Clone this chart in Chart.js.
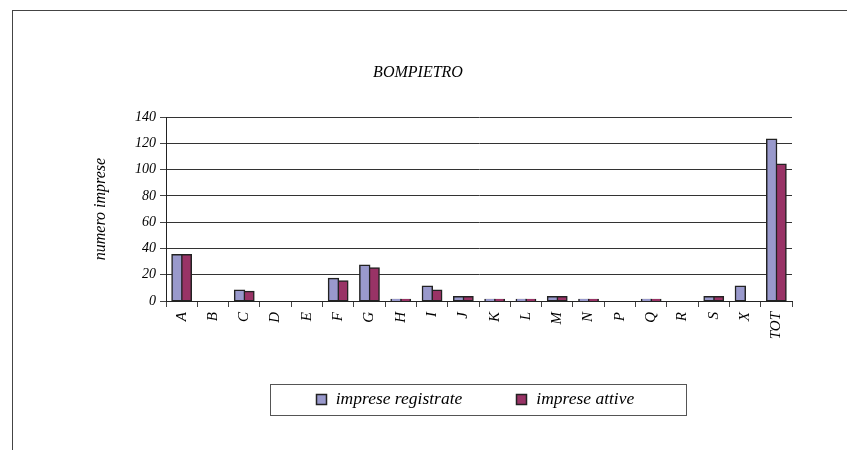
<!DOCTYPE html>
<html>
<head>
<meta charset="utf-8">
<script src="https://cdn.jsdelivr.net/npm/chart.js@4/dist/chart.umd.min.js"></script>
<style>
  html, body { margin: 0; padding: 0; background: #fff; }
  #wrap { position: relative; width: 847px; height: 450px; }
  #frame { position: absolute; left: 12px; top: 10px; width: 900px; height: 500px;
           border-left: 1px solid #444; border-top: 1px solid #444; pointer-events: none; }
</style>
</head>
<body>
<div id="wrap">
  <canvas id="barChart" width="847" height="450"></canvas>
  <div id="frame"></div>
</div>
<script>
var categorie = ['A','B','C','D','E','F','G','H','I','J','K','L','M','N','P','Q','R','S','X','TOT'];
var registrate = [35, 0, 8, 0, 0, 17, 27, 1, 11, 3, 1, 1, 3, 1, 0, 1, 0, 3, 11, 123];
var attive     = [35, 0, 7, 0, 0, 15, 25, 1, 8, 3, 1, 1, 3, 1, 0, 1, 0, 3, 0, 104];
var yTicks = [0, 20, 40, 60, 80, 100, 120, 140];

var serif = "'Liberation Serif', 'Times New Roman', serif";

// legenda disegnata a mano, con il riquadro intorno
var legendaBox = {
    id: 'legendaBox',
    afterDraw: function(chart) {
        var ctx = chart.ctx;
        var area = chart.chartArea;
        var ds = chart.data.datasets;
        ctx.save();
        ctx.font = 'italic 17.5px ' + serif;
        var box = 10, gapTesto = 10, gapVoci = 54;
        var larghezze = ds.map(function(d) { return box + gapTesto + ctx.measureText(d.label).width; });
        var totale = larghezze.reduce(function(a, b) { return a + b; }, 0) + gapVoci * (ds.length - 1);
        var cx = (area.left + area.right) / 2 - 4;
        var yc = area.bottom + 98;
        var x = cx - totale / 2;

        // riquadro
        var x1 = Math.round(x - 46) + 0.5;
        var x2 = Math.round(x + totale + 52) + 0.5;
        var y1 = Math.round(yc - 15.5) + 0.5;
        var y2 = Math.round(yc + 15.5) + 0.5;
        ctx.strokeStyle = '#555';
        ctx.lineWidth = 1;
        ctx.strokeRect(x1, y1, x2 - x1, y2 - y1);

        ctx.textBaseline = 'middle';
        ctx.textAlign = 'left';
        ds.forEach(function(d, i) {
            var bx = Math.round(x) + 0.5, by = Math.round(yc - box / 2) + 0.5;
            ctx.fillStyle = d.backgroundColor;
            ctx.fillRect(bx, by, box, box);
            ctx.strokeStyle = '#222';
            ctx.lineWidth = 1.5;
            ctx.strokeRect(bx, by, box, box);
            ctx.fillStyle = '#000';
            ctx.fillText(d.label, x + box + gapTesto, yc);
            x += larghezze[i] + gapVoci;
        });
        ctx.restore();
    }
};

function gonfia(c) {
    return c.raw > 0 ? 1 : 0;
}

var ctx = document.getElementById('barChart').getContext('2d');
var chart = new Chart(ctx, {
    type: 'bar',
    data: {
        labels: categorie,
        datasets: [{
            label: 'imprese registrate',
            data: registrate,
            backgroundColor: '#9999cc',
            borderColor: '#222',
            borderWidth: 1.5,
            borderSkipped: false,
            inflateAmount: gonfia
        }, {
            label: 'imprese attive',
            data: attive,
            backgroundColor: '#993366',
            borderColor: '#222',
            borderWidth: 1.5,
            borderSkipped: false,
            inflateAmount: gonfia
        }]
    },
    options: {
        responsive: false,
        animation: false,
        layout: { padding: { left: 44, right: 55, top: 0, bottom: 101 } },
        datasets: { bar: { categoryPercentage: 0.6, barPercentage: 1.0 } },
        plugins: {
            title: {
                display: true,
                text: 'BOMPIETRO',
                color: '#000',
                font: { family: serif, style: 'italic', size: 16, weight: 'normal' },
                padding: { top: 63, bottom: 35 }
            },
            legend: { display: false },
            tooltip: { enabled: false }
        },
        scales: {
            x: {
                grid: {
                    offset: true,
                    drawOnChartArea: true,
                    color: function(c) { return c.index === categorie.length ? '#888' : 'rgba(0,0,0,0)'; },
                    tickColor: '#444',
                    tickLength: 6
                },
                border: { color: '#222', width: 1 },
                ticks: {
                    color: '#000',
                    minRotation: 90,
                    maxRotation: 90,
                    autoSkip: false,
                    padding: 5,
                    font: { family: serif, style: 'italic', size: 15 }
                },
                afterFit: function(s) { s.height = 48; }
            },
            y: {
                min: 0,
                max: 140,
                afterBuildTicks: function(s) { s.ticks = yTicks.map(function(v) { return { value: v }; }); },
                grid: { color: '#333', tickColor: '#444', tickLength: 6, lineWidth: 1 },
                border: { color: '#222', width: 1 },
                ticks: {
                    color: '#000',
                    padding: 4,
                    font: { family: serif, style: 'italic', size: 14 }
                },
                title: {
                    display: true,
                    text: 'numero imprese',
                    color: '#000',
                    font: { family: serif, style: 'italic', size: 16 },
                    padding: { top: 47, bottom: 0 }
                },
                afterFit: function(s) { s.width = 122; }
            }
        }
    },
    plugins: [legendaBox]
});
</script>
</body>
</html>
